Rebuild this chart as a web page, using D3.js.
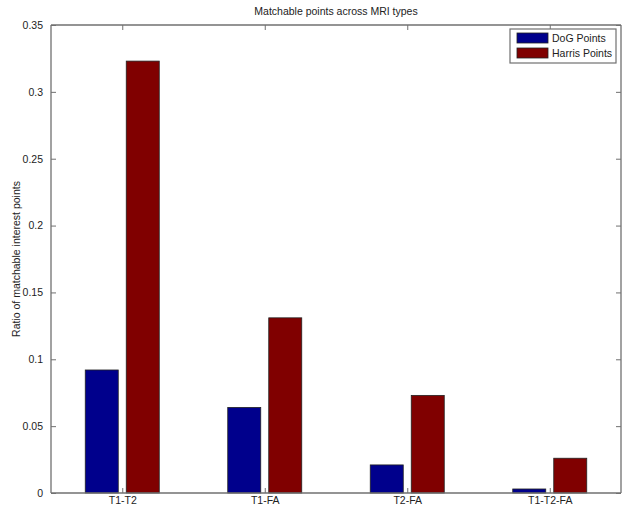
<!DOCTYPE html>
<html>
<head>
<meta charset="utf-8">
<script src="https://cdn.jsdelivr.net/npm/d3@7"></script>
<style>
  body { margin: 0; background: #fff; }
  svg { display: block; font-family: Arial, "Liberation Sans", sans-serif; }
</style>
</head>
<body>
<div id="chart"></div>
<script>
// data
const categories = ["T1-T2", "T1-FA", "T2-FA", "T1-T2-FA"];
const seriesNames = ["DoG Points", "Harris Points"];
const dogValues = [0.092, 0.064, 0.021, 0.003];
const harrisValues = [0.323, 0.131, 0.073, 0.026];
const yTicks = [0, 0.05, 0.1, 0.15, 0.2, 0.25, 0.3, 0.35];
const colors = ["#00008c", "#800000"];

const width = 629, height = 506;
const margin = { top: 25, right: 8, bottom: 13, left: 51 };
const x0 = margin.left, x1 = width - margin.right;
const y0 = height - margin.bottom, y1 = margin.top;

const svg = d3.select("#chart").append("svg")
  .attr("width", width)
  .attr("height", height);

// matlab style: categories at 1..4, limits 0.5..4.5
const x = d3.scaleLinear().domain([0.5, 4.5]).range([x0, x1]);
const y = d3.scaleLinear().domain([0, 0.35]).range([y0, y1]);

const series = [dogValues, harrisValues];
const barW = 33, offset = 20.5;

series.forEach((vals, s) => {
  svg.append("g").selectAll("rect")
    .data(vals)
    .join("rect")
    .attr("x", (d, i) => x(i + 1) + (s === 0 ? -offset : offset) - barW / 2)
    .attr("y", d => y(d))
    .attr("width", barW)
    .attr("height", d => y(0) - y(d))
    .attr("fill", colors[s])
    .attr("stroke", "#222")
    .attr("stroke-width", 0.8);
});

const axisColor = "#707070";
const tickLen = 5;

// axes (ticks pointing inward like matlab)
const gLeft = svg.append("g").attr("transform", `translate(${x0},0)`)
  .call(d3.axisLeft(y).tickValues(yTicks).tickSize(-tickLen).tickPadding(8)
    .tickFormat(d => d === 0 ? "0" : String(d)));
const gRight = svg.append("g").attr("transform", `translate(${x1},0)`)
  .call(d3.axisRight(y).tickValues(yTicks).tickSize(-tickLen).tickFormat(""));
const gBottom = svg.append("g").attr("transform", `translate(0,${y0})`)
  .call(d3.axisBottom(x).tickValues([1, 2, 3, 4]).tickSize(-tickLen).tickPadding(4)
    .tickFormat((d, i) => categories[i]));
const gTop = svg.append("g").attr("transform", `translate(0,${y1})`)
  .call(d3.axisTop(x).tickValues([1, 2, 3, 4]).tickSize(-tickLen).tickFormat(""));

[gLeft, gRight, gBottom, gTop].forEach(g => {
  g.select(".domain").attr("stroke", axisColor).attr("stroke-width", 1.3);
  g.selectAll(".tick line").attr("stroke", axisColor);
  g.selectAll(".tick text").attr("fill", "#222").style("font-size", "10.5px");
});
gLeft.select(".domain").attr("d", `M0,${y0}V${y1}`);
gRight.select(".domain").attr("d", `M0,${y0}V${y1}`);
gBottom.select(".domain").attr("d", `M${x0},0H${x1}`);
gTop.select(".domain").attr("d", `M${x0},0H${x1}`);

// title
svg.append("text")
  .attr("x", (x0 + x1) / 2)
  .attr("y", 15)
  .attr("text-anchor", "middle")
  .style("font-size", "10.5px")
  .attr("fill", "#222")
  .text("Matchable points across MRI types");

// y label
svg.append("text")
  .attr("transform", `translate(20,${(y0 + y1) / 2}) rotate(-90)`)
  .attr("text-anchor", "middle")
  .style("font-size", "10.5px")
  .attr("fill", "#222")
  .text("Ratio of matchable interest points");

// legend
const lg = svg.append("g").attr("transform", "translate(510,29)");
lg.append("rect")
  .attr("width", 106).attr("height", 34)
  .attr("fill", "#fff").attr("stroke", axisColor).attr("stroke-width", 1.2);
seriesNames.forEach((name, i) => {
  lg.append("rect")
    .attr("x", 7).attr("y", 4 + i * 15)
    .attr("width", 31).attr("height", 10)
    .attr("fill", colors[i]).attr("stroke", "#222").attr("stroke-width", 0.8);
  lg.append("text")
    .attr("x", 42).attr("y", 13 + i * 15)
    .style("font-size", "10.5px")
    .attr("fill", "#222")
    .text(name);
});
</script>
</body>
</html>
